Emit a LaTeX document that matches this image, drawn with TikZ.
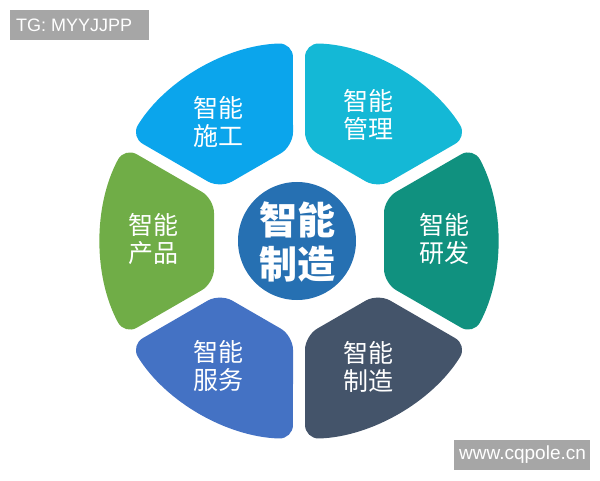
\documentclass[tikz,border=0pt]{standalone}
\usepackage{fontspec}
\setmainfont{Liberation Sans}
\newfontfamily\cjk{Noto Sans CJK SC}
\definecolor{cShigong}{HTML}{0BA5EC}
\definecolor{cGuanli}{HTML}{14B8D6}
\definecolor{cYanfa}{HTML}{10917F}
\definecolor{cZhizao}{HTML}{44546A}
\definecolor{cFuwu}{HTML}{4472C4}
\definecolor{cChanpin}{HTML}{70AD47}
\definecolor{cCenter}{HTML}{2670B2}
\definecolor{cMark}{HTML}{A6A6A6}
\tikzset{
  seg/.style={fill=#1, draw=none, rounded corners=14pt},
  segtext/.style={text=white, align=center, font=\cjk\fontsize{25}{28}\selectfont, inner sep=0pt},
  wmbox/.style={fill=cMark, draw=none},
  wmtext/.style={text=white, anchor=west, inner sep=0pt}
}
\begin{document}
\begin{tikzpicture}[x=1pt,y=1pt]
\useasboundingbox (0,0) rectangle (600,480);
\foreach \ang/\col in {120/cShigong,60/cGuanli,0/cYanfa,-60/cZhizao,-120/cFuwu,180/cChanpin}{
  \fill[seg=\col, shift={(299,239)}, rotate=\ang]
    (85,-42.15) -- (85,42.15) -- (174.4,93.75)
    arc[start angle=28.26, end angle=-28.26, radius=198] -- cycle;
}
\node[circle, fill=cCenter, minimum size=118pt, inner sep=0pt] (hub) at (297,239) {};
\node[text=white, align=center, font=\cjk\bfseries\fontsize{38}{44}\selectfont, inner sep=0pt] (hubtext) at (297,238.5) {智能\\制造};
\node[segtext] (shigong) at (218,358) {智能\\施工};
\node[segtext] (guanli) at (368.5,365) {智能\\管理};
\node[segtext] (yanfa) at (444,241) {智能\\研发};
\node[segtext] (zhizao) at (368.5,113) {智能\\制造};
\node[segtext] (fuwu) at (218,114) {智能\\服务};
\node[segtext] (chanpin) at (153,241) {智能\\产品};
\fill[wmbox] (10,440) rectangle (149,470);
\node[wmtext, font=\fontsize{18}{20}\selectfont] (tg) at (16,455) {TG: MYYJJPP};
\fill[wmbox] (454,10) rectangle (590,40);
\node[wmtext, font=\fontsize{19}{21}\selectfont] (www) at (459,25) {www.cqpole.cn};
\end{tikzpicture}
\end{document}
